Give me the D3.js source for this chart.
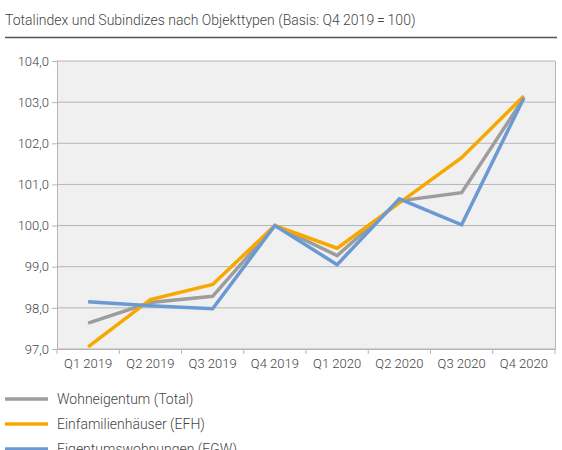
<!DOCTYPE html><html><head><meta charset="utf-8">
<script src="https://cdn.jsdelivr.net/npm/d3@7"></script>
<style>body{margin:0;background:#fff;font-family:Roboto,sans-serif;}</style></head><body>
<svg id="c" width="562" height="450"></svg>
<script>
const categories=["Q1 2019","Q2 2019","Q3 2019","Q4 2019","Q1 2020","Q2 2020","Q3 2020","Q4 2020"];
const total=[97.63,98.13,98.28,100,99.27,100.6,100.8,103.1];
const efh=[97.05,98.2,98.57,100,99.45,100.55,101.65,103.15];
const egw=[98.15,98.05,97.98,100,99.05,100.65,100.02,103.1];
const yTicks=[97,98,99,100,101,102,103,104];
const series=[{name:"Wohneigentum (Total)",v:total,c:"#9d9d9d"},{name:"Einfamilienhäuser (EFH)",v:efh,c:"#f7a800"},{name:"Eigentumswohnungen (EGW)",v:egw,c:"#6a99d3"}];
const svg=d3.select("#c");
svg.append("text").attr("x",5).attr("y",25).attr("font-size",14).attr("font-weight",300).attr("fill","#444").text("Totalindex und Subindizes nach Objekttypen (Basis: Q4 2019\u2009=\u2009100)");
svg.append("line").attr("x1",5).attr("x2",557).attr("y1",37.5).attr("y2",37.5).attr("stroke","#555").attr("stroke-width",1.5);
const x=d3.scaleBand().domain(categories).range([57,555]);
const y=d3.scaleLinear().domain([97,104]).range([349,61]);
svg.append("rect").attr("x",57).attr("y",61).attr("width",498).attr("height",288).attr("fill","#f0f0f0");
svg.append("g").selectAll("line").data(yTicks).join("line").attr("x1",57).attr("x2",555).attr("y1",d=>y(d)).attr("y2",d=>y(d)).attr("stroke","#b5b5b5");
svg.append("line").attr("x1",555.5).attr("x2",555.5).attr("y1",61).attr("y2",349).attr("stroke","#b5b5b5");
const ya=svg.append("g").attr("transform","translate(57,0)").call(d3.axisLeft(y).tickValues(yTicks).tickSize(5).tickFormat(d=>d3.format(".1f")(d).replace(".",",")));
ya.select(".domain").attr("stroke","#b5b5b5");ya.selectAll("line").attr("stroke","#b5b5b5");
ya.selectAll("text").attr("font-size",13).attr("font-family","Roboto").attr("font-weight",300).attr("fill","#444");
const xa=svg.append("g").attr("transform","translate(0,349)").call(d3.axisBottom(x).tickSize(0).tickPadding(10));
xa.select(".domain").attr("stroke","#b5b5b5");
xa.selectAll("text").attr("font-size",13).attr("font-family","Roboto").attr("font-weight",300).attr("fill","#444");
svg.append("g").selectAll("line").data(d3.range(categories.length+1)).join("line").attr("x1",i=>57+i*x.step()).attr("x2",i=>57+i*x.step()).attr("y1",349).attr("y2",354).attr("stroke","#b5b5b5");
const line=d3.line().x((d,i)=>x(categories[i])+x.bandwidth()/2).y(d=>y(d));
series.forEach(s=>svg.append("path").attr("d",line(s.v)).attr("fill","none").attr("stroke",s.c).attr("stroke-width",3.5));
series.forEach((s,i)=>{const yy=399+i*25;
svg.append("line").attr("x1",5).attr("x2",48).attr("y1",yy).attr("y2",yy).attr("stroke",s.c).attr("stroke-width",3.5);
svg.append("text").attr("x",57).attr("y",yy+5).attr("font-size",14).attr("font-weight",300).attr("fill","#444").text(s.name);});
</script></body></html>
